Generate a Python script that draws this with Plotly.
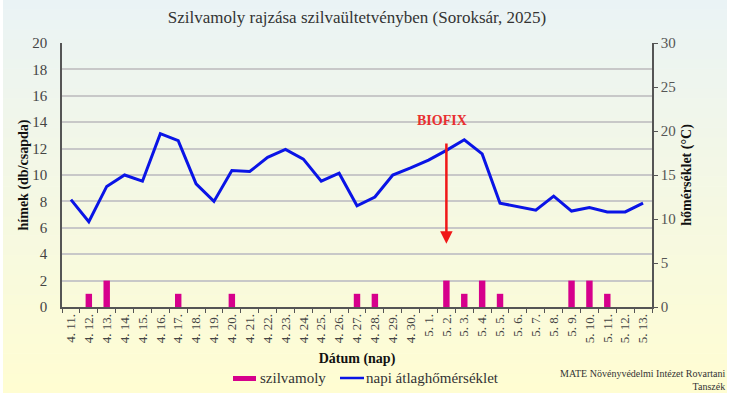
import plotly.graph_objects as go

categories = ["4. 11.", "4. 12.", "4. 13.", "4. 14.", "4. 15.", "4. 16.", "4. 17.", "4. 18.", "4. 19.", "4. 20.",
              "4. 21.", "4. 22.", "4. 23.", "4. 24.", "4. 25.", "4. 26.", "4. 27.", "4. 28.", "4. 29.", "4. 30.",
              "5. 1.", "5. 2.", "5. 3.", "5. 4.", "5. 5.", "5. 6.", "5. 7.", "5. 8.", "5. 9.", "5. 10.",
              "5. 11.", "5. 12.", "5. 13."]
moth_counts = [0, 1, 2, 0, 0, 0, 1, 0, 0, 1,
               0, 0, 0, 0, 0, 0, 1, 1, 0, 0,
               0, 2, 1, 2, 1, 0, 0, 0, 2, 2,
               1, 0, 0]
temperature = [12.2, 9.7, 13.7, 15.0, 14.3, 19.7, 18.9, 14.0, 12.0, 15.5,
               15.4, 17.0, 17.9, 16.8, 14.3, 15.2, 11.5, 12.5, 15.0, 15.8,
               16.7, 17.8, 19.0, 17.4, 11.8, 11.4, 11.0, 12.6, 10.9, 11.3,
               10.8, 10.8, 11.8]
biofix_day = "5. 2."
bar_name = "szilvamoly"
line_name = "napi átlaghőmérséklet"

serif = "Liberation Serif, Times New Roman, DejaVu Serif, serif"
BAR_COLOR = "#D6008C"
LINE_COLOR = "#0A14E6"

L, R, T, B = 62, 77, 43, 92
W, H = 729, 399
PW, PH = W - L - R, H - T - B


def px(x):
    return (x - L) / PW


def py(y):
    return (H - B - y) / PH


fig = go.Figure()
fig.add_trace(go.Bar(x=categories, y=moth_counts, name=bar_name, showlegend=False,
                     marker=dict(color=BAR_COLOR, line=dict(width=0)), width=0.36))
fig.add_trace(go.Scatter(x=categories, y=temperature, name=line_name, showlegend=False,
                         mode="lines", line=dict(color=LINE_COLOR, width=3), yaxis="y2"))

# background gradient (top light blue-ish to bottom light yellow)
shapes = []
n = 40
y_bot, y_top = py(393), py(0)
c_top = (234, 243, 245)
c_bot = (255, 253, 210)
for i in range(n):
    t0 = i / n
    t1 = (i + 1) / n
    t = (t0 + t1) / 2
    c = tuple(round(c_bot[k] + (c_top[k] - c_bot[k]) * t) for k in range(3))
    shapes.append(dict(type="rect", xref="paper", yref="paper",
                       x0=px(3), x1=px(727),
                       y0=y_bot + (y_top - y_bot) * t0, y1=y_bot + (y_top - y_bot) * t1 + 0.002,
                       fillcolor="rgb(%d,%d,%d)" % c, line=dict(width=0), layer="below"))

# custom legend
shapes.append(dict(type="rect", xref="paper", yref="paper", x0=px(233), x1=px(256),
                   y0=py(381), y1=py(376), fillcolor=BAR_COLOR, line=dict(width=0)))
shapes.append(dict(type="line", xref="paper", yref="paper", x0=px(340), x1=px(364),
                   y0=py(378), y1=py(378), line=dict(color=LINE_COLOR, width=2.5)))

fig.update_layout(
    width=W, height=H,
    margin=dict(l=L, r=R, t=T, b=B),
    paper_bgcolor="#FFFFFF", plot_bgcolor="rgba(0,0,0,0)",
    shapes=shapes,
    font=dict(family=serif, color="#333333", size=13),
    title=dict(text="Szilvamoly rajzása szilvaültetvényben (Soroksár, 2025)",
               x=0.5, xref="paper", xanchor="center", y=1 - 17 / H, yanchor="middle",
               font=dict(size=17, color="#333333", family=serif)),
    showlegend=False,
    xaxis=dict(type="category", categoryorder="array", categoryarray=categories,
               tickangle=-90, tickfont=dict(size=13, color="#444444", family=serif),
               ticks="outside", tickson="boundaries", ticklen=4, tickcolor="#555555",
               showline=True, linecolor="#555555", linewidth=1.5, automargin=False,
               showgrid=False,
               title=dict(text="<b>Dátum (nap)</b>", font=dict(size=14, color="#111111", family=serif), standoff=11)),
    yaxis=dict(range=[0, 20], dtick=2, showline=True, linecolor="#555555", linewidth=1.5,
               gridcolor="#C8C8C8", gridwidth=1.5, tickfont=dict(size=15, color="#444444", family=serif),
               zeroline=False, automargin=False, ticklabelstandoff=10,
               title=dict(text="<b>hímek (db/csapda)</b>", font=dict(size=14, color="#111111", family=serif), standoff=0)),
    yaxis2=dict(range=[0, 30], dtick=5, overlaying="y", side="right", showgrid=False,
                showline=True, linecolor="#555555", linewidth=1.5, ticks="outside", ticklen=4,
                tickcolor="#555555", zeroline=False, automargin=False,
                tickfont=dict(size=15, color="#555555", family=serif),
                title=dict(text="<b>hőmérséklet (°C)</b>", font=dict(size=14, color="#111111", family=serif), standoff=6)),
    annotations=[
        dict(x=biofix_day, y=4.8, xref="x", yref="y", ax=biofix_day, ay=12.5, axref="x", ayref="y",
             showarrow=True, arrowhead=2, arrowsize=1, arrowwidth=2.5, arrowcolor="#F01818", text=""),
        dict(x=biofix_day, y=14.1, xref="x", yref="y", text="<b>BIOFIX</b>", showarrow=False,
             font=dict(size=14, color="#E83030", family=serif), xshift=-4),
        dict(x=px(258), y=py(378), xref="paper", yref="paper", xanchor="left", yanchor="middle",
             text=bar_name, showarrow=False, font=dict(size=15, color="#333333", family=serif)),
        dict(x=px(364), y=py(378), xref="paper", yref="paper", xanchor="left", yanchor="middle",
             text=line_name, showarrow=False, font=dict(size=15, color="#333333", family=serif)),
        dict(x=px(727), y=py(380), xref="paper", yref="paper", xanchor="right", yanchor="middle",
             text="MATE Növényvédelmi Intézet Rovartani<br>Tanszék", showarrow=False, align="right",
             font=dict(size=10, color="#333333", family=serif)),
    ],
)

fig.write_html("out.html", config={"displayModeBar": False},
               post_script="document.body.style.margin='0px';")
